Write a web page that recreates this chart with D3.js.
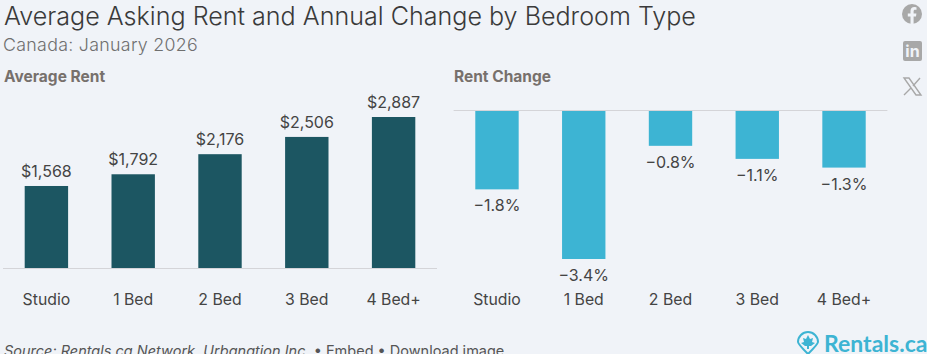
<!DOCTYPE html>
<html>
<head>
<meta charset="utf-8">
<script src="https://cdn.jsdelivr.net/npm/d3@7"></script>
<style>
    html, body { margin: 0; padding: 0; background: #f0f3f8; overflow: hidden; }
    text { font-family: Inter, sans-serif; }
</style>
</head>
<body>
<div id="chart"></div>
<script>
const categories = ["Studio", "1 Bed", "2 Bed", "3 Bed", "4 Bed+"];
const rentValues = [1568, 1792, 2176, 2506, 2887];
const changeValues = [-1.8, -3.4, -0.8, -1.1, -1.3];

const w = 927, h = 354;

const svg = d3.select("#chart").append("svg")
    .attr("width", w)
    .attr("height", h)
    .style("display", "block");

// HEADER
svg.append("text").text("Average Asking Rent and Annual Change by Bedroom Type")
    .attr("x", 4).attr("y", 25)
    .style("font-size", "25.1px").style("font-weight", 300).style("fill", "#3a3a3a");
svg.append("text").text("Canada: January 2026")
    .attr("x", 3).attr("y", 51)
    .style("font-size", "17.8px").style("font-weight", 300).style("fill", "#6f6f6f").style("letter-spacing", "0.3px");
svg.append("text").text("Average Rent")
    .attr("x", 4).attr("y", 82)
    .style("font-size", "15.5px").style("font-weight", 700).style("fill", "#77706c");
svg.append("text").text("Rent Change")
    .attr("x", 454).attr("y", 82)
    .style("font-size", "15.5px").style("font-weight", 700).style("fill", "#77706c");

// LEFT PANEL
const xRent = d3.scaleBand().domain(categories).range([3, 437]).paddingInner(0.5).paddingOuter(0.25);
const yRent = d3.scaleLinear().domain([0, 2887]).range([268, 117]);

svg.append("g").selectAll("rect").data(rentValues).join("rect")
    .attr("x", (d, i) => xRent(categories[i]))
    .attr("y", d => yRent(d))
    .attr("width", xRent.bandwidth())
    .attr("height", d => yRent(0) - yRent(d))
    .attr("fill", "#1c5662");

svg.append("g").selectAll("text").data(rentValues).join("text")
    .text(d => "$" + d3.format(",")(d))
    .attr("x", (d, i) => xRent(categories[i]) + xRent.bandwidth() / 2)
    .attr("y", d => yRent(d) - 9)
    .style("text-anchor", "middle").style("font-size", "16px").style("fill", "#444");

svg.append("line")
    .attr("x1", 3).attr("x2", 437)
    .attr("y1", yRent(0) + 0.5).attr("y2", yRent(0) + 0.5)
    .attr("stroke", "#d4d4d8");

// RIGHT PANEL
const xChange = d3.scaleBand().domain(categories).range([453.6, 887.4]).paddingInner(0.5).paddingOuter(0.25);
const yChange = d3.scaleLinear().domain([0, -3.4]).range([111, 259]);

svg.append("g").selectAll("rect").data(changeValues).join("rect")
    .attr("x", (d, i) => xChange(categories[i]))
    .attr("y", yChange(0))
    .attr("width", xChange.bandwidth())
    .attr("height", d => yChange(d) - yChange(0))
    .attr("fill", "#3db4d3");

svg.append("g").selectAll("text").data(changeValues).join("text")
    .text(d => "\u2212" + Math.abs(d).toFixed(1) + "%")
    .attr("x", (d, i) => xChange(categories[i]) + xChange.bandwidth() / 2)
    .attr("y", d => yChange(d) + 22)
    .style("text-anchor", "middle").style("font-size", "16px").style("fill", "#444");

svg.append("line")
    .attr("x1", 453.6).attr("x2", 887.4)
    .attr("y1", yChange(0) - 0.5).attr("y2", yChange(0) - 0.5)
    .attr("stroke", "#d4d4d8");

// CATEGORY LABELS
[xRent, xChange].forEach(x => {
    svg.append("g").selectAll("text").data(categories).join("text")
        .text(d => d)
        .attr("x", d => x(d) + x.bandwidth() / 2)
        .attr("y", 305)
        .style("text-anchor", "middle").style("font-size", "15.8px").style("fill", "#444");
});

// FOOTER
const footer = svg.append("text").attr("x", 4).attr("y", 356)
    .style("font-size", "14.5px").style("fill", "#555");
footer.append("tspan").text("Source: Rentals.ca Network, Urbanation Inc.").style("font-style", "italic");
footer.append("tspan").text(" \u2022 Embed \u2022 Download image");

// LOGO
const logo = svg.append("g").attr("transform", "translate(808,344)");
logo.append("path")
    .attr("d", "M0,10 C-4,6 -10,0 -10,-2 A10,10 0 1 1 10,-2 C10,0 4,6 0,10 Z")
    .attr("fill", "none").attr("stroke", "#3db4d3").attr("stroke-width", 2);
logo.append("path")
    .attr("d", "M0,-9 L2,-5 L5,-6 L4,-2 L7,-1 L3,2 L1,2 L1,5 L-1,5 L-1,2 L-3,2 L-7,-1 L-4,-2 L-5,-6 L-2,-5 Z")
    .attr("fill", "#3db4d3");
svg.append("text").text("Rentals.ca")
    .attr("x", 824).attr("y", 352)
    .style("font-family", "Lato, sans-serif").style("font-size", "23px").style("font-weight", 700).style("fill", "#3db4d3");

// SHARE ICONS
const icons = svg.append("g").attr("fill", "#a8a8a8");
icons.append("circle").attr("cx", 912).attr("cy", 14).attr("r", 10);
icons.append("path").attr("fill", "#f0f3f8")
    .attr("d", "M910.5,24 L910.5,16.5 L907.8,16.5 L907.8,13.5 L910.5,13.5 L910.5,11 C910.5,8.3 912,7 914.4,7 L916.5,7.2 L916.5,9.8 L915.2,9.8 C914,9.8 913.6,10.5 913.6,11.4 L913.6,13.5 L916.4,13.5 L916,16.5 L913.6,16.5 L913.6,24 Z");
icons.append("rect").attr("x", 903).attr("y", 41).attr("width", 19).attr("height", 20).attr("rx", 2);
icons.append("text").text("in").attr("x", 912.5).attr("y", 57)
    .style("text-anchor", "middle").style("font-size", "16px").style("font-weight", 700).style("fill", "#f0f3f8");
icons.append("path").attr("fill", "none").attr("stroke", "#a8a8a8").attr("stroke-width", 1.4)
    .attr("d", "M904,78 L909,78 L921,95 L916,95 Z");
icons.append("path").attr("fill", "none").attr("stroke", "#a8a8a8").attr("stroke-width", 1.4)
    .attr("d", "M920,78 L913,86 M911,88 L904,95");
</script>
</body>
</html>
